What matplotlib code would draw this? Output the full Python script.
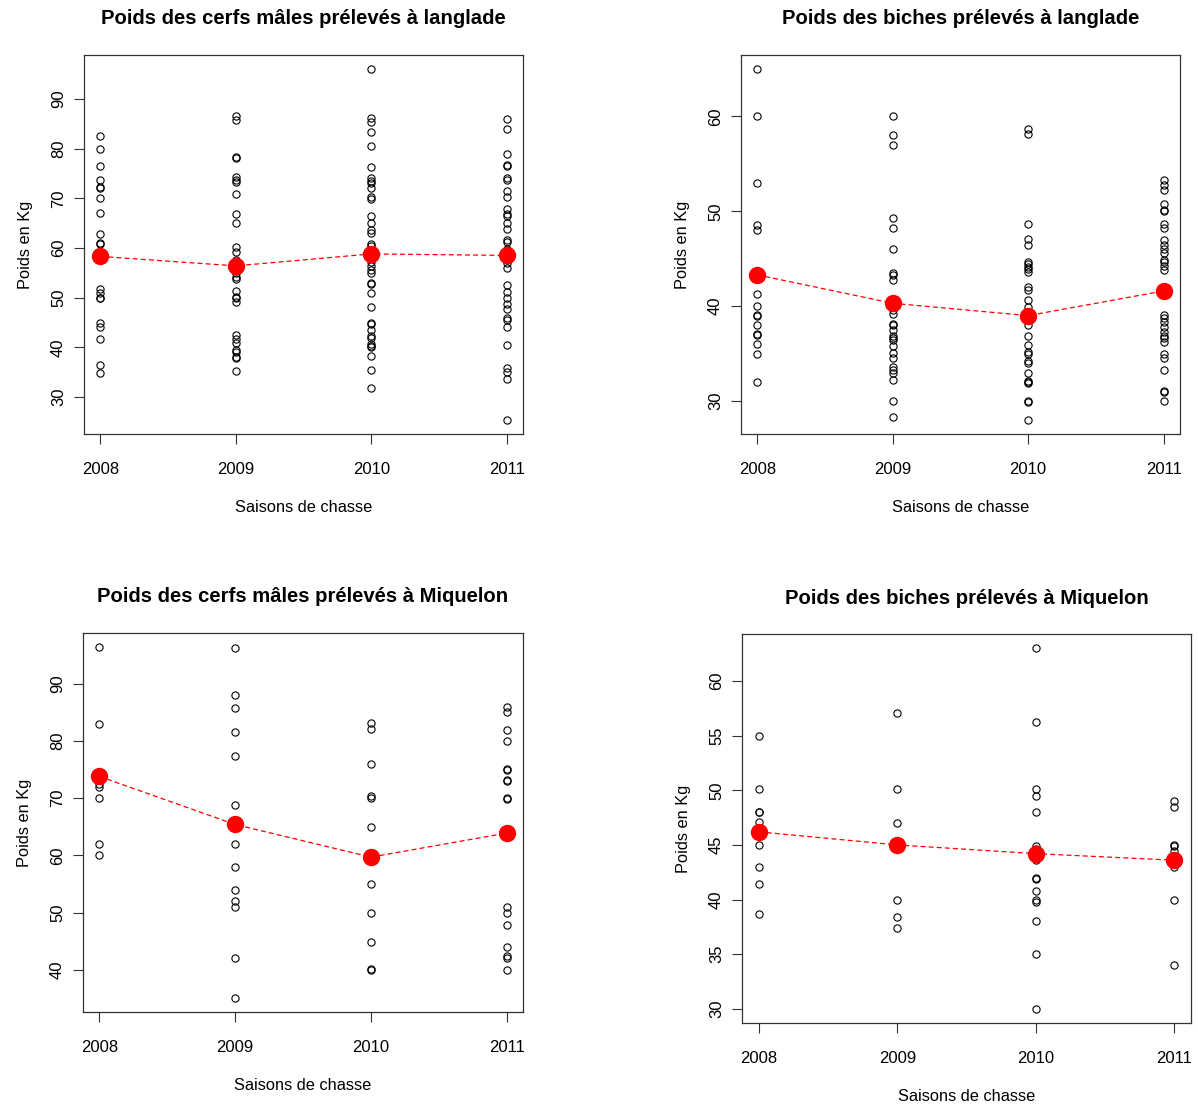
import matplotlib
matplotlib.use("Agg")
import matplotlib.pyplot as plt

plt.rcParams['font.family'] = ['Liberation Sans', 'DejaVu Sans']

saisons = [2008, 2009, 2010, 2011]

# cerfs males - Langlade
cl_2008 = [82.5, 80.0, 76.4, 73.6, 72.3, 72.1, 70.0, 67.0, 62.9, 60.9, 60.7,
           51.7, 50.9, 50.0, 49.9, 45.0, 44.0, 41.6, 36.4, 34.8]
cl_2009 = [86.6, 85.8, 78.3, 78.1, 74.2, 73.7, 73.3, 70.8, 66.8, 65.0, 60.1,
           59.1, 57.6, 55.0, 54.2, 53.7, 51.3, 50.2, 49.9, 49.1, 42.5, 41.6,
           40.8, 39.5, 39.1, 38.1, 37.8, 35.2]
cl_2010 = [96.0, 86.1, 85.4, 83.3, 80.5, 76.2, 74.0, 73.5, 73.0, 72.1, 70.3,
           69.9, 66.5, 65.1, 63.6, 63.0, 60.7, 60.3, 59.6, 57.9, 57.1, 56.4,
           55.6, 54.9, 52.9, 52.8, 51.0, 48.1, 45.0, 44.7, 43.5, 42.2, 41.8,
           40.7, 40.3, 40.1, 38.3, 35.4, 31.9]
cl_2011 = [86.0, 83.9, 78.9, 76.7, 76.4, 74.0, 73.7, 71.5, 70.3, 67.9, 66.8,
           66.5, 65.0, 63.8, 61.7, 61.1, 59.7, 59.1, 57.6, 56.9, 55.9, 52.5,
           51.1, 49.9, 48.7, 47.7, 46.0, 45.6, 44.0, 40.4, 35.8, 35.1, 33.6,
           25.4]
moy_cl = [58.3, 56.4, 58.8, 58.5]

# biches - Langlade
bl_2008 = [65.0, 60.0, 53.0, 48.6, 48.0, 41.3, 40.0, 39.1, 39.0, 38.0, 37.1,
           37.0, 36.0, 35.0, 32.0]
bl_2009 = [60.0, 58.0, 57.0, 49.3, 48.2, 46.0, 43.5, 43.3, 42.8, 39.6, 39.2,
           38.1, 38.0, 37.5, 36.9, 36.6, 36.4, 35.8, 35.1, 34.5, 33.6, 33.3,
           33.0, 32.2, 30.0, 28.3]
bl_2010 = [58.7, 58.2, 48.7, 47.1, 46.4, 44.7, 44.4, 44.1, 43.9, 43.6, 42.0,
           41.7, 40.6, 39.9, 38.0, 36.9, 35.9, 35.2, 35.0, 34.2, 34.0, 33.0,
           32.1, 32.0, 31.9, 30.0, 29.9, 28.0]
bl_2011 = [53.3, 52.8, 52.2, 50.8, 50.1, 50.0, 48.7, 48.2, 47.0, 46.4, 46.0,
           45.6, 44.9, 44.7, 44.2, 43.8, 39.1, 38.7, 38.3, 37.8, 37.3, 36.9,
           36.6, 36.2, 35.0, 34.5, 33.3, 31.1, 30.9, 30.0]
moy_bl = [43.3, 40.3, 39.0, 41.6]

# cerfs males - Miquelon
cm_2008 = [96.4, 83.0, 72.5, 72.0, 70.0, 62.0, 60.0]
cm_2009 = [96.2, 88.1, 85.7, 81.6, 77.4, 68.8, 62.0, 57.9, 53.9, 52.0, 51.0,
           42.0, 35.1]
cm_2010 = [83.1, 82.0, 75.9, 70.4, 70.0, 64.9, 55.0, 49.9, 44.8, 40.1, 40.0]
cm_2011 = [86.0, 85.0, 81.9, 79.9, 75.1, 75.0, 73.1, 73.0, 70.0, 69.9, 51.0,
           49.9, 47.9, 44.0, 42.4, 42.1, 40.0]
moy_cm = [73.8, 65.4, 59.7, 63.9]

# biches - Miquelon
bm_2008 = [55.0, 50.1, 48.0, 48.0, 47.1, 45.0, 43.0, 41.4, 38.7]
bm_2009 = [57.1, 50.1, 47.0, 40.0, 38.4, 37.4]
bm_2010 = [63.0, 56.3, 50.1, 49.5, 48.0, 44.9, 44.6, 43.6, 42.0, 41.9, 40.8,
           40.0, 39.8, 38.0, 35.0, 30.0]
bm_2011 = [49.0, 48.5, 45.0, 44.9, 44.4, 43.0, 40.0, 34.0]
moy_bm = [46.2, 45.0, 44.2, 43.6]


def panneau(ax, colonnes, moyennes, titre, yticks):
    for an, poids in zip(saisons, colonnes):
        ax.plot([an] * len(poids), poids, 'o', mfc='none', mec='black',
                ms=5.2, mew=0.8)
    ax.plot(saisons, moyennes, '--', color='red', lw=0.9, dashes=(4, 2.5))
    ax.plot(saisons, moyennes, 'o', color='red', ms=11.5)
    ax.margins(0.04)
    ax.set_xticks(saisons)
    ax.set_xticklabels([str(s) for s in saisons])
    ax.set_yticks(yticks)
    ax.set_yticklabels([str(t) for t in yticks], rotation=90, va='center')
    ax.tick_params(direction='out', length=7, width=0.8, labelsize=12,
                   color='#333333')
    ax.tick_params(axis='x', pad=13)
    ax.tick_params(axis='y', pad=6)
    for s in ax.spines.values():
        s.set_linewidth(0.9)
        s.set_color('#333333')
    ax.set_title(titre, fontsize=14.6, fontweight='bold', pad=22)
    ax.set_xlabel('Saisons de chasse', fontsize=11.8, labelpad=17)
    ax.set_ylabel('Poids en Kg', fontsize=11.8, labelpad=13)


fig = plt.figure(figsize=(11.98, 11.06), dpi=100)
ax1 = fig.add_axes([0.0701, 0.6076, 0.3664, 0.3427])
ax2 = fig.add_axes([0.6185, 0.6076, 0.3664, 0.3427])
ax3 = fig.add_axes([0.0693, 0.0850, 0.3673, 0.3427])
ax4 = fig.add_axes([0.6194, 0.0750, 0.3748, 0.3517])

panneau(ax1, [cl_2008, cl_2009, cl_2010, cl_2011], moy_cl,
        'Poids des cerfs mâles prélevés à langlade', [30, 40, 50, 60, 70, 80, 90])
panneau(ax2, [bl_2008, bl_2009, bl_2010, bl_2011], moy_bl,
        'Poids des biches prélevés à langlade', [30, 40, 50, 60])
panneau(ax3, [cm_2008, cm_2009, cm_2010, cm_2011], moy_cm,
        'Poids des cerfs mâles prélevés à Miquelon', [40, 50, 60, 70, 80, 90])
panneau(ax4, [bm_2008, bm_2009, bm_2010, bm_2011], moy_bm,
        'Poids des biches prélevés à Miquelon', [30, 35, 40, 45, 50, 55, 60])

fig.savefig('out.png', dpi=100)
